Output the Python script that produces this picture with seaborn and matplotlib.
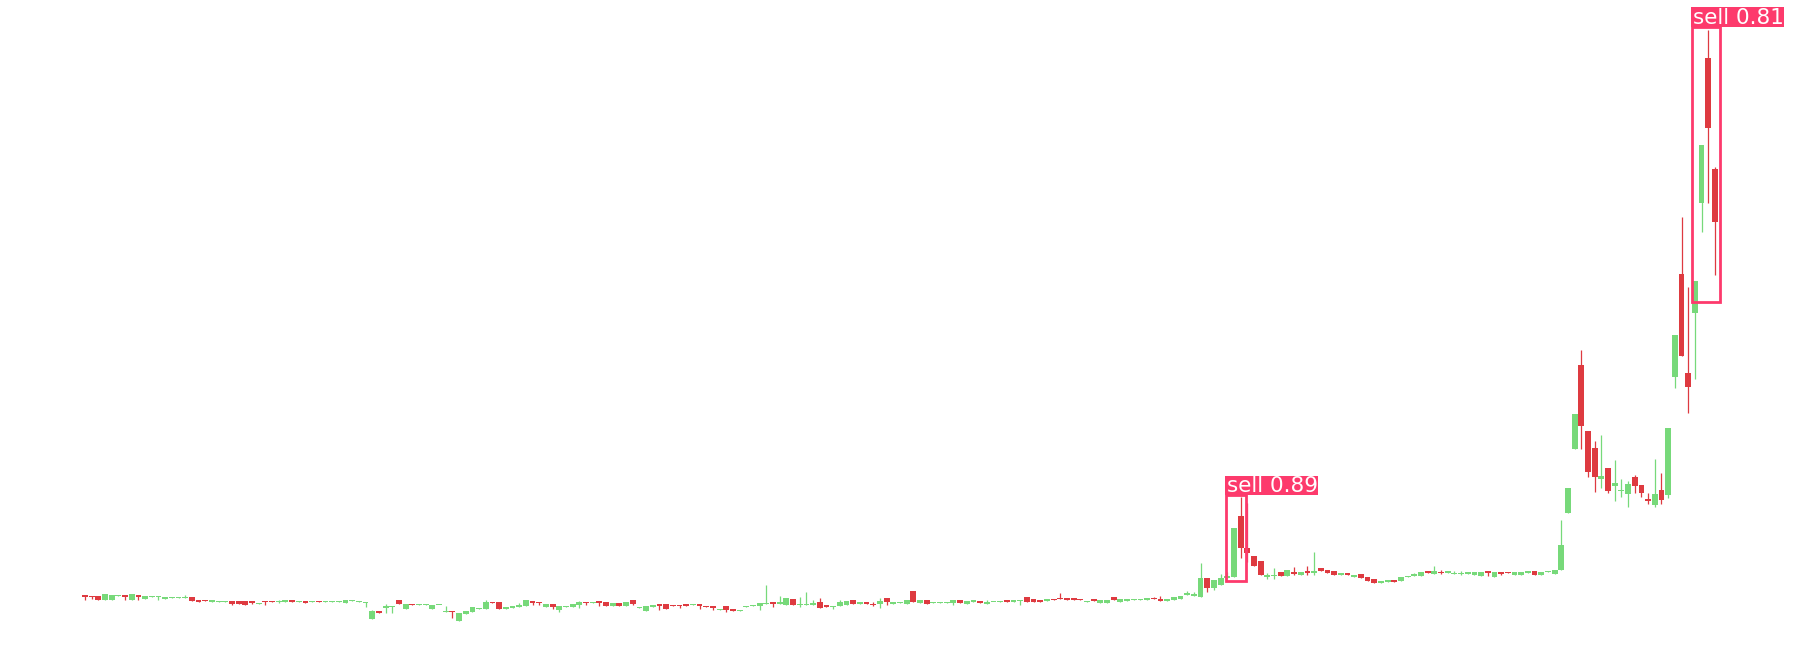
import numpy as np
import pandas as pd
import matplotlib
matplotlib.use("Agg")
import matplotlib.pyplot as plt
from matplotlib.patches import Rectangle
import seaborn as sns

# OHLC (arbitrary price units)
opens = [5.53, 5.43, 5.43, 5.03, 5.03, 5.43, 5.53, 5.03, 5.53, 5.13,
         5.33, 5.33, 5.13, 5.23, 5.23, 5.23, 5.3, 5.03, 5.03, 4.8,
         4.83, 4.83, 4.9, 4.9, 4.9, 4.9, 4.63, 4.93, 4.93, 4.83,
         4.8, 5.03, 4.83, 4.93, 4.83, 4.93, 4.83, 4.83, 4.83, 4.7,
         4.93, 4.8, 4.73, 3.13, 3.93, 4.23, 4.3, 5.03, 4.13, 4.63,
         4.53, 4.53, 4.13, 4.47, 3.83, 3.93, 2.93, 3.63, 3.83, 4.13,
         4.13, 4.83, 4.83, 4.13, 4.23, 4.33, 4.43, 4.9, 4.83, 4.33,
         4.6, 4.03, 4.33, 4.33, 4.53, 4.83, 4.73, 4.9, 4.8, 4.43,
         4.7, 4.43, 5.0, 4.23, 3.93, 4.33, 4.6, 4.6, 4.53, 4.53,
         4.63, 4.53, 4.63, 4.43, 4.43, 4.03, 4.43, 4.13, 3.93, 4.3,
         4.43, 4.43, 4.63, 4.83, 4.63, 4.53, 5.1, 4.53, 4.53, 4.53,
         4.8, 4.53, 4.33, 4.43, 4.53, 5.0, 4.63, 4.83, 4.63, 4.63,
         5.2, 4.63, 4.73, 4.63, 5.9, 4.73, 5.0, 4.73, 4.67, 4.73,
         4.73, 5.0, 4.63, 4.83, 4.93, 4.63, 4.8, 4.83, 5.03, 4.83,
         4.93, 5.3, 5.13, 5.03, 4.93, 5.13, 5.2, 5.2, 5.2, 5.13,
         4.83, 5.13, 4.73, 4.73, 5.3, 4.8, 4.93, 5.03, 5.03, 5.03,
         5.2, 5.1, 4.93, 5.03, 5.13, 5.5, 5.4, 5.33, 7.23, 6.17,
         6.5, 7.17, 7.33, 13.4, 10.23, 9.4, 8.9, 7.27, 7.4, 7.83,
         7.4, 7.8, 7.5, 7.9, 7.73, 8.17, 8.0, 7.9, 7.53, 7.73,
         7.33, 7.6, 7.33, 7.07, 6.67, 6.83, 7.03, 6.93, 7.33, 7.43,
         7.4, 7.93, 7.63, 7.8, 7.73, 7.63, 7.63, 7.63, 7.53, 7.43,
         7.93, 7.33, 7.83, 7.83, 7.53, 7.53, 7.73, 7.93, 7.53, 7.8,
         7.63, 8.0, 13.73, 20.13, 28.5, 21.9, 20.2, 17.07, 18.2, 16.43,
         15.93, 15.63, 17.3, 16.5, 15.13, 14.53, 16.0, 15.53, 27.33, 37.6,
         27.73, 33.67, 44.67, 59.23, 48.07]

highs = [5.53, 5.43, 5.43, 5.6, 5.5, 5.5, 5.53, 5.6, 5.53, 5.4,
         5.4, 5.4, 5.3, 5.3, 5.3, 5.5, 5.3, 5.03, 5.03, 5.03,
         4.9, 4.93, 4.9, 4.9, 4.9, 4.9, 4.73, 4.93, 4.93, 5.03,
         5.0, 5.03, 4.93, 4.93, 4.9, 4.93, 4.9, 4.9, 4.9, 5.03,
         5.03, 4.9, 4.83, 4.0, 3.93, 4.57, 4.37, 5.03, 4.6, 4.63,
         4.63, 4.63, 4.5, 4.53, 4.37, 3.93, 3.7, 3.93, 4.3, 4.2,
         5.0, 4.83, 4.83, 4.3, 4.43, 4.7, 5.0, 4.9, 4.83, 4.6,
         4.6, 4.37, 4.4, 4.6, 4.9, 4.83, 4.8, 4.9, 4.8, 4.7,
         4.7, 4.8, 5.0, 4.3, 4.4, 4.5, 4.6, 4.6, 4.53, 4.53,
         4.63, 4.6, 4.63, 4.43, 4.43, 4.13, 4.43, 4.13, 4.03, 4.4,
         4.53, 4.73, 6.5, 4.83, 5.4, 5.2, 5.1, 5.3, 5.8, 5.0,
         5.2, 4.53, 4.43, 5.0, 4.9, 5.0, 4.8, 4.83, 4.8, 5.2,
         5.2, 4.8, 4.8, 5.0, 5.9, 5.0, 5.0, 4.8, 4.8, 4.8,
         5.0, 5.0, 4.9, 5.0, 4.93, 5.0, 4.83, 4.93, 5.03, 5.0,
         5.0, 5.3, 5.13, 5.03, 5.1, 5.13, 5.7, 5.2, 5.2, 5.13,
         4.93, 5.13, 5.0, 5.0, 5.3, 5.1, 5.1, 5.1, 5.1, 5.2,
         5.3, 5.4, 5.1, 5.3, 5.4, 5.87, 5.77, 8.67, 7.23, 7.0,
         7.57, 7.83, 12.17, 15.33, 14.67, 9.4, 8.9, 7.67, 8.17, 7.83,
         8.0, 8.33, 7.77, 8.4, 9.77, 8.17, 8.0, 7.9, 7.73, 7.73,
         7.5, 7.6, 7.33, 7.07, 6.93, 7.03, 7.03, 7.33, 7.4, 7.73,
         7.83, 7.93, 8.4, 8.0, 7.93, 7.93, 7.93, 7.83, 7.83, 7.83,
         7.93, 7.83, 7.83, 7.83, 7.83, 7.83, 7.93, 7.93, 7.83, 7.9,
         8.03, 13.0, 16.2, 23.6, 30.0, 21.9, 20.9, 21.5, 18.2, 19.0,
         17.1, 16.9, 17.5, 16.5, 15.7, 19.1, 17.7, 22.2, 31.5, 43.27,
         36.27, 36.9, 50.5, 62.0, 48.33]

lows = [5.03, 5.13, 5.03, 5.03, 5.03, 5.43, 5.03, 5.03, 5.03, 5.13,
        5.33, 5.03, 5.13, 5.23, 5.23, 5.23, 4.93, 4.8, 4.93, 4.8,
        4.83, 4.8, 4.53, 4.6, 4.5, 4.57, 4.63, 4.53, 4.83, 4.73,
        4.8, 4.8, 4.83, 4.7, 4.83, 4.83, 4.83, 4.83, 4.83, 4.7,
        4.93, 4.8, 4.33, 3.13, 3.67, 3.73, 3.73, 4.63, 4.13, 4.53,
        4.53, 4.53, 4.13, 4.47, 3.83, 3.23, 2.93, 3.63, 3.83, 4.13,
        4.13, 4.73, 4.1, 4.13, 4.23, 4.33, 4.43, 4.53, 4.53, 4.33,
        4.13, 3.83, 4.33, 4.33, 4.23, 4.53, 4.73, 4.43, 4.43, 4.43,
        4.43, 4.43, 4.53, 4.23, 3.93, 4.33, 4.03, 4.13, 4.43, 4.23,
        4.43, 4.53, 4.13, 4.33, 4.03, 4.03, 3.83, 3.93, 3.93, 4.3,
        4.43, 4.03, 4.63, 4.33, 4.63, 4.53, 4.53, 4.33, 4.53, 4.53,
        4.23, 4.33, 4.13, 4.43, 4.53, 4.63, 4.63, 4.63, 4.43, 4.23,
        4.53, 4.63, 4.73, 4.63, 4.8, 4.73, 4.63, 4.73, 4.67, 4.73,
        4.53, 4.73, 4.63, 4.83, 4.73, 4.63, 4.8, 4.83, 4.8, 4.83,
        4.53, 4.83, 4.83, 4.83, 4.93, 5.03, 5.13, 5.03, 5.03, 5.03,
        4.83, 4.93, 4.73, 4.73, 5.03, 4.8, 4.93, 5.03, 5.03, 5.03,
        5.1, 4.93, 4.93, 5.03, 5.13, 5.5, 5.4, 5.33, 5.83, 6.0,
        6.5, 7.17, 7.33, 9.17, 8.83, 8.43, 7.5, 7.1, 7.1, 7.4,
        7.4, 7.5, 7.5, 7.5, 7.5, 7.9, 7.73, 7.5, 7.53, 7.5,
        7.33, 7.23, 6.93, 6.73, 6.67, 6.83, 6.83, 6.93, 7.33, 7.43,
        7.4, 7.73, 7.63, 7.63, 7.73, 7.63, 7.53, 7.63, 7.53, 7.43,
        7.43, 7.33, 7.53, 7.73, 7.53, 7.53, 7.73, 7.53, 7.53, 7.8,
        7.63, 8.0, 13.73, 20.13, 20.13, 17.33, 15.83, 16.17, 15.73, 14.93,
        15.33, 14.33, 15.73, 15.33, 14.63, 14.33, 14.63, 15.23, 26.17, 29.43,
        23.67, 27.1, 41.83, 44.73, 37.5]

closes = [5.33, 5.33, 5.03, 5.6, 5.5, 5.5, 5.33, 5.6, 5.33, 5.4,
          5.4, 5.4, 5.3, 5.3, 5.3, 5.3, 4.93, 4.8, 4.93, 5.03,
          4.9, 4.9, 4.63, 4.63, 4.5, 4.7, 4.73, 4.83, 4.83, 4.93,
          5.0, 4.8, 4.93, 4.7, 4.9, 4.83, 4.9, 4.9, 4.9, 5.03,
          5.03, 4.9, 4.83, 3.93, 3.67, 4.37, 4.37, 4.63, 4.6, 4.53,
          4.63, 4.63, 4.5, 4.53, 3.93, 3.8, 3.7, 3.93, 4.3, 4.2,
          4.8, 4.73, 4.1, 4.3, 4.43, 4.5, 5.0, 4.73, 4.7, 4.6,
          4.33, 4.37, 4.4, 4.6, 4.8, 4.73, 4.8, 4.73, 4.43, 4.7,
          4.43, 4.8, 4.63, 4.3, 4.4, 4.5, 4.43, 4.13, 4.43, 4.43,
          4.43, 4.6, 4.43, 4.33, 4.23, 4.13, 4.03, 3.93, 4.03, 4.4,
          4.53, 4.73, 4.7, 4.63, 4.83, 5.2, 4.53, 4.63, 4.6, 4.73,
          4.23, 4.33, 4.43, 4.8, 4.9, 4.63, 4.8, 4.63, 4.53, 4.9,
          4.8, 4.8, 4.8, 5.0, 4.8, 5.0, 4.63, 4.8, 4.8, 4.8,
          5.0, 4.73, 4.9, 5.0, 4.73, 4.83, 4.83, 4.93, 4.8, 5.0,
          5.0, 4.83, 4.83, 4.83, 5.1, 5.03, 5.13, 5.03, 5.03, 5.03,
          4.93, 4.93, 5.0, 5.0, 5.03, 5.1, 5.1, 5.1, 5.1, 5.2,
          5.1, 4.93, 5.1, 5.3, 5.4, 5.7, 5.6, 7.17, 6.17, 7.0,
          7.17, 7.43, 12.17, 10.23, 9.73, 8.43, 7.5, 7.5, 7.5, 7.4,
          8.0, 7.6, 7.77, 7.7, 7.9, 7.9, 7.73, 7.5, 7.73, 7.5,
          7.5, 7.23, 6.93, 6.73, 6.93, 7.03, 6.83, 7.33, 7.4, 7.57,
          7.83, 7.73, 7.93, 7.73, 7.93, 7.73, 7.73, 7.83, 7.83, 7.83,
          7.73, 7.83, 7.63, 7.73, 7.83, 7.83, 7.93, 7.53, 7.83, 7.9,
          8.03, 10.5, 16.2, 23.6, 22.4, 17.83, 17.33, 17.4, 15.93, 16.7,
          16.0, 16.6, 16.43, 15.73, 14.93, 15.6, 15.03, 22.2, 31.5, 29.43,
          26.33, 36.9, 50.5, 52.17, 42.83]

# detections (candle index span, price span)
det_labels = ['sell', 'sell']
det_scores = [0.89, 0.81]
det_x0 = [170.8, 240.6]
det_x1 = [173.8, 244.7]
det_y0 = [6.9, 34.8]
det_y1 = [15.5, 62.3]

sns.set_theme(style='white')
plt.rcParams['font.family'] = ['DejaVu Sans']

UP = '#77d97a'
DOWN = '#de3a40'
BOX = '#fd3a6c'

df = pd.DataFrame({'open': opens, 'high': highs, 'low': lows, 'close': closes})
df['up'] = df['close'] >= df['open']
colors = np.where(df['up'], UP, DOWN)

fig = plt.figure(figsize=(18, 6.5), dpi=100)
ax = fig.add_axes([0, 0, 1, 1])
ax.set_facecolor('white')

# wicks
ax.vlines(df.index, df['low'], df['high'], colors=colors, linewidth=0.9, zorder=1)
# bodies
body_lo = df[['open', 'close']].min(axis=1)
body_h = (df['open'] - df['close']).abs().clip(lower=0.12)
ax.bar(df.index, body_h, bottom=body_lo, width=0.88, color=colors,
       linewidth=0, zorder=2)

# detection boxes and labels
for lab, sc, x0, x1, y0, y1 in zip(det_labels, det_scores, det_x0, det_x1, det_y0, det_y1):
    ax.add_patch(Rectangle((x0, y0), x1 - x0, y1 - y0, fill=False,
                           edgecolor=BOX, linewidth=2.0, zorder=5))
    ax.add_patch(Rectangle((x0 - 0.15, y1), 13.95, 1.95, facecolor=BOX,
                           edgecolor='none', zorder=6))
    ax.text(x0 + 0.1, y1 + 0.3, f'{lab} {sc:.2f}', color='white',
            fontsize=15.5, ha='left', va='baseline', zorder=7)

ax.set_xlim(-85 / 6.68, (1800 - 85) / 6.68)
ax.set_ylim(0, 65)
ax.axis('off')

fig.savefig('out.png', dpi=100, facecolor='white')
